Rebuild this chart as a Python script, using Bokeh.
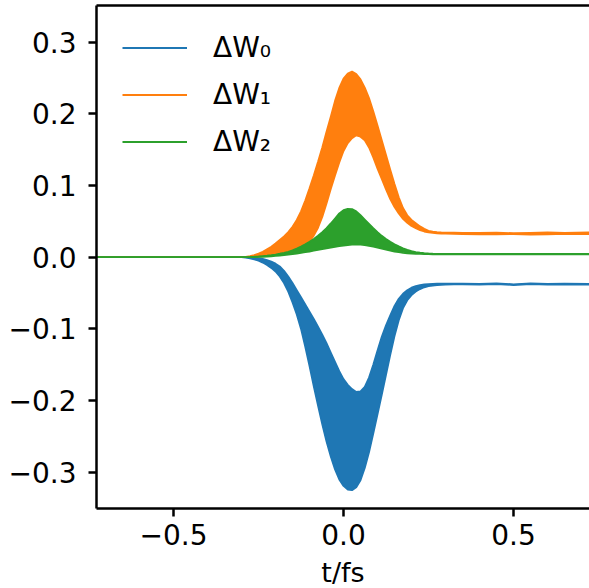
from bokeh.plotting import figure
from bokeh.layouts import column
from bokeh.models import Range1d, FixedTicker, LinearAxis, Legend, LegendItem
from bokeh.core.properties import value
from bokeh.embed import file_html
from bokeh.resources import INLINE

# time axis (fs)
t = [-0.725, -0.5, -0.35, -0.325,
     -0.30, -0.2875, -0.275, -0.2625, -0.25, -0.2375, -0.225, -0.2125, -0.20, -0.1875,
     -0.175, -0.1625, -0.15, -0.1375, -0.125, -0.1125, -0.10, -0.0875, -0.075, -0.0625,
     -0.05, -0.0375, -0.025, -0.0125,
     0.0, 0.0125, 0.025, 0.0375, 0.05, 0.0625, 0.075, 0.0875, 0.10, 0.1125,
     0.125, 0.1375, 0.15, 0.1625, 0.175, 0.1875, 0.20, 0.2125, 0.225, 0.2375,
     0.25, 0.2625, 0.275, 0.2875, 0.30,
     0.325, 0.35, 0.40, 0.45, 0.50, 0.55, 0.60, 0.65, 0.725]

# Delta W0: envelope of the fast oscillation (band between the two edges)
w0_upper = [0.0, 0.0, 0.0, 0.0,
            0.0, 0.0, -0.0003, -0.0008, -0.0015, -0.0025, -0.004, -0.006, -0.009, -0.013,
            -0.019, -0.027, -0.036, -0.046, -0.056, -0.066, -0.076, -0.086, -0.097, -0.108,
            -0.120, -0.133, -0.146, -0.159,
            -0.170, -0.178, -0.184, -0.188, -0.187, -0.181, -0.168, -0.150, -0.130, -0.111,
            -0.095, -0.081, -0.068, -0.058, -0.051, -0.046, -0.0425, -0.0405, -0.039, -0.038,
            -0.0375, -0.0372, -0.037, -0.037, -0.037,
            -0.0370, -0.0368, -0.0372, -0.0366, -0.0378, -0.0365, -0.0373, -0.0368, -0.0372]
w0_lower = [0.0, 0.0, 0.0, 0.0,
            0.0, -0.0005, -0.0015, -0.003, -0.005, -0.0075, -0.011, -0.015, -0.020, -0.027,
            -0.036, -0.048, -0.063, -0.080, -0.100, -0.125, -0.152, -0.180, -0.207, -0.233,
            -0.257, -0.278, -0.296, -0.310,
            -0.319, -0.324, -0.325, -0.321, -0.311, -0.294, -0.272, -0.246, -0.219, -0.192,
            -0.164, -0.136, -0.110, -0.088, -0.071, -0.060, -0.053, -0.048, -0.0445, -0.042,
            -0.0405, -0.0395, -0.039, -0.0385, -0.0383,
            -0.0380, -0.0378, -0.0382, -0.0376, -0.0388, -0.0375, -0.0383, -0.0378, -0.0382]

# Delta W1
w1_upper = [0.0, 0.0, 0.0, 0.0,
            0.0, 0.0005, 0.0015, 0.003, 0.005, 0.0075, 0.011, 0.0145, 0.019, 0.024,
            0.029, 0.035, 0.0425, 0.052, 0.064, 0.079, 0.096, 0.114, 0.133, 0.153,
            0.175, 0.196, 0.218, 0.236,
            0.249, 0.256, 0.259, 0.2555, 0.248, 0.2365, 0.222, 0.2035, 0.1835, 0.163,
            0.1425, 0.122, 0.102, 0.0835, 0.0685, 0.0585, 0.052, 0.0475, 0.043, 0.0395,
            0.0368, 0.0355, 0.0348, 0.0345, 0.0343,
            0.0342, 0.0340, 0.0338, 0.0342, 0.0335, 0.0340, 0.0345, 0.0340, 0.0345]
w1_lower = [0.0, 0.0, 0.0, 0.0,
            0.0, 0.0, 0.0003, 0.0007, 0.0012, 0.0018, 0.0025, 0.0033, 0.0040, 0.0048,
            0.0058, 0.0072, 0.0090, 0.0110, 0.0135, 0.017, 0.022, 0.030, 0.041, 0.056,
            0.075, 0.095, 0.114, 0.132,
            0.148, 0.159, 0.166, 0.170, 0.168, 0.163, 0.153, 0.139, 0.1235, 0.109,
            0.0945, 0.081, 0.070, 0.061, 0.0535, 0.048, 0.0435, 0.0405, 0.0378, 0.0358,
            0.0345, 0.0338, 0.0333, 0.0330, 0.0328,
            0.0325, 0.0322, 0.0320, 0.0318, 0.0322, 0.0315, 0.0320, 0.0325, 0.0322]

# Delta W2
w2_upper = [0.0, 0.0, 0.0, 0.0,
            0.0, 0.0001, 0.0003, 0.0006, 0.001, 0.0015, 0.002, 0.0028, 0.0037, 0.0048,
            0.006, 0.0075, 0.0095, 0.012, 0.0148, 0.018, 0.0215, 0.0255, 0.030, 0.035,
            0.0405, 0.047, 0.054, 0.061,
            0.0655, 0.0675, 0.067, 0.064, 0.0585, 0.0525, 0.0465, 0.0405, 0.035, 0.0298,
            0.0255, 0.0215, 0.018, 0.015, 0.0123, 0.0102, 0.0085, 0.0072, 0.0062, 0.0055,
            0.0051, 0.0048, 0.0047, 0.0046, 0.0046,
            0.0045, 0.0045, 0.0044, 0.0046, 0.0045, 0.0044, 0.0046, 0.0045, 0.0045]
w2_lower = [0.0, 0.0, 0.0, 0.0,
            0.0, 0.0, 0.0001, 0.0002, 0.0004, 0.0006, 0.0009, 0.0013, 0.0017, 0.0022,
            0.0028, 0.0035, 0.0042, 0.005, 0.0059, 0.0069, 0.0079, 0.009, 0.0101, 0.0112,
            0.0123, 0.0134, 0.0145, 0.0155,
            0.0163, 0.0170, 0.0174, 0.0176, 0.0174, 0.0168, 0.0158, 0.0146, 0.0132, 0.0118,
            0.0104, 0.0091, 0.0079, 0.0069, 0.0061, 0.0055, 0.0050, 0.0047, 0.0045, 0.0043,
            0.0042, 0.0041, 0.0041, 0.0040, 0.0040,
            0.0040, 0.0040, 0.0039, 0.0041, 0.0040, 0.0039, 0.0041, 0.0040, 0.0040]

series_names = ["ΔW₀", "ΔW₁", "ΔW₂"]
series_colors = ["#1f77b4", "#ff7f0e", "#2ca02c"]

x_ticks = [-0.5, 0.0, 0.5]
x_tick_labels = ["−0.5", "0.0", "0.5"]
y_ticks = [-0.3, -0.2, -0.1, 0.0, 0.1, 0.2, 0.3]
y_tick_labels = ["−0.3", "−0.2", "−0.1", "0.0", "0.1", "0.2", "0.3"]
x_label = "t/fs"

FONT = "DejaVu Sans"
FS = "28px"
X0, X1 = -0.7265, 0.7235
Y0, Y1 = -0.3505, 0.351

p = figure(width=589, height=556, output_backend="svg", toolbar_location=None,
           x_range=Range1d(X0, X1), y_range=Range1d(Y0, Y1),
           min_border_left=96, min_border_right=0, min_border_top=5, min_border_bottom=48)
p.outline_line_color = None
p.grid.visible = False
p.background_fill_color = "white"
p.border_fill_color = "white"


def key(v):
    return 0 if v == 0 else v


for ax, ticks, labels, standoff in [(p.xaxis[0], x_ticks, x_tick_labels, 7),
                                    (p.yaxis[0], y_ticks, y_tick_labels, 12)]:
    ax.ticker = FixedTicker(ticks=ticks)
    ax.major_label_overrides = {key(v): s for v, s in zip(ticks, labels)}
    ax.axis_line_width = 2.5
    ax.axis_line_color = "black"
    ax.major_tick_line_width = 2.5
    ax.major_tick_line_color = "black"
    ax.major_tick_out = 8
    ax.major_tick_in = 0
    ax.minor_tick_line_color = None
    ax.major_label_text_font = FONT
    ax.major_label_text_font_size = FS
    ax.major_label_text_color = "black"
    ax.major_label_standoff = standoff

top = LinearAxis(ticker=FixedTicker(ticks=[]), major_tick_out=0, major_tick_in=0,
                 major_label_standoff=0, axis_line_width=2.5, axis_line_color="black",
                 minor_tick_line_color=None)
p.add_layout(top, "above")

items = []
for name, color, up, lo in [(series_names[0], series_colors[0], w0_upper, w0_lower),
                            (series_names[1], series_colors[1], w1_upper, w1_lower),
                            (series_names[2], series_colors[2], w2_upper, w2_lower)]:
    p.varea(x=t, y1=lo, y2=up, fill_color=color, fill_alpha=1.0)
    r_up = p.line(t, up, line_color=color, line_width=1.8)
    p.line(t, lo, line_color=color, line_width=1.8)
    items.append(LegendItem(label=name, renderers=[r_up]))

legend = Legend(items=items, location="top_left", border_line_color=None,
                background_fill_alpha=0, label_text_font=FONT, label_text_font_size=FS,
                label_text_color="black", glyph_width=65, glyph_height=33, label_height=33,
                spacing=14, padding=0, margin=26, label_standoff=26)
p.add_layout(legend)

# strip under the plot carrying the x-axis title, sharing the x scale
p2 = figure(width=589, height=32, output_backend="svg", toolbar_location=None,
            x_range=p.x_range, y_range=Range1d(0, 32), x_axis_type=None, y_axis_type=None,
            min_border_left=96, min_border_right=0, min_border_top=0, min_border_bottom=0)
p2.outline_line_color = None
p2.grid.visible = False
p2.background_fill_color = "white"
p2.border_fill_color = "white"
p2.text(x=[(X0 + X1) / 2], y=[16], text=[x_label], text_align="center",
        text_baseline="middle", text_font=value(FONT), text_font_size=value("27px"),
        text_color="black")

layout = column(p, p2, spacing=0)

open("out.html", "w").write(file_html(layout, INLINE))
